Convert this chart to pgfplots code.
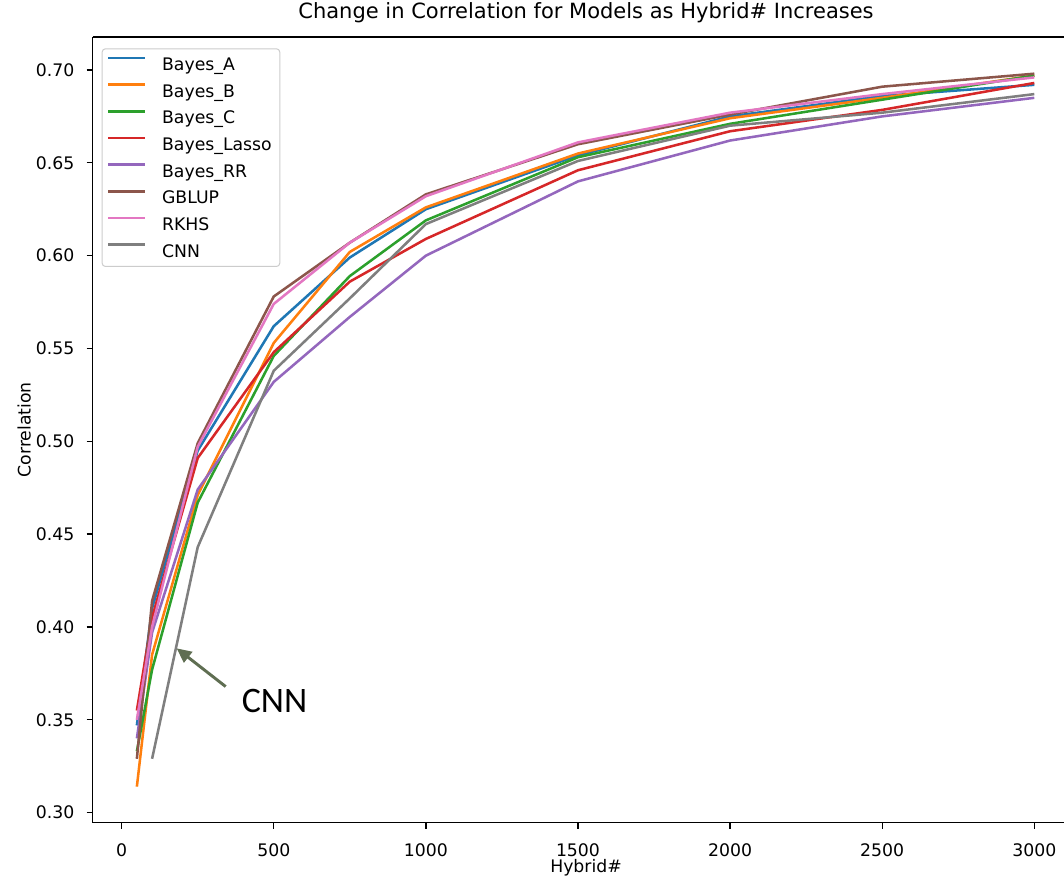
\documentclass[border=0pt]{standalone}
\usepackage{fontspec}
\setmainfont{DejaVu Sans}
\newfontfamily\calibri{Carlito}
\usepackage{pgfplots}
\pgfplotsset{compat=1.18}
\usetikzlibrary{arrows.meta}
\definecolor{tabblue}{HTML}{1F77B4}
\definecolor{taborange}{HTML}{FF7F0E}
\definecolor{tabgreen}{HTML}{2CA02C}
\definecolor{tabred}{HTML}{D62728}
\definecolor{tabpurple}{HTML}{9467BD}
\definecolor{tabbrown}{HTML}{8C564B}
\definecolor{tabpink}{HTML}{E377C2}
\definecolor{tabgray}{HTML}{7F7F7F}
\definecolor{arrowc}{HTML}{5F6E52}
\begin{document}
\begin{tikzpicture}
\begin{axis}[
  scale only axis,
  width=728.5bp, height=589.3bp,
  xmin=-95.3, xmax=3097.6, ymin=0.2946, ymax=0.7178,
  axis x line*=box, axis y line*=left,
  xtick={0,500,1000,1500,2000,2500,3000},
  ytick={0.30,0.35,0.40,0.45,0.50,0.55,0.60,0.65,0.70},
  xtick pos=left, ytick pos=left,
  tick align=outside, major tick length=4.5bp,
  every tick/.style={black, line width=1bp},
  axis line style={black, line width=1bp},
  /pgf/number format/assume math mode=true,
  xticklabel style={font=\fontsize{13}{15}\selectfont, anchor=base, inner sep=0pt, yshift=-20.5bp, /pgf/number format/1000 sep={}},
  yticklabel style={font=\fontsize{13}{15}\selectfont, anchor=east, inner sep=0pt, xshift=-9bp, /pgf/number format/.cd, fixed, fixed zerofill, precision=2},
  title={Change in Correlation for Models as Hybrid\# Increases},
  title style={at={(axis description cs:0.5079,1)}, anchor=base, yshift=7.9bp, inner sep=0pt, font=\fontsize{15.8}{19}\selectfont},
  xlabel={Hybrid\#},
  xlabel style={at={(axis description cs:0.5079,0)}, anchor=base, yshift=-37.7bp, inner sep=0pt, font=\fontsize{13}{15}\selectfont},
  ylabel={Correlation},
  ylabel style={at={(axis description cs:-0.064,0.5)}, anchor=base, inner sep=0pt, font=\fontsize{13}{15}\selectfont},
  legend cell align=left,
  legend style={at={(axis description cs:0,1)}, anchor=north west, xshift=6.75bp, yshift=-8.5bp,
    draw=black!20, fill=white, fill opacity=0.8, text opacity=1, rounded corners=2.5bp,
    inner xsep=3.75bp, inner ysep=1.65bp, row sep=0pt, line width=0.75bp,
    font=\fontsize{13}{15}\selectfont,
    nodes={inner sep=0pt, text height=14.75bp, text depth=5.25bp, text width=84.5bp, align=left}},
  legend image code/.code={\draw[#1, line width=1.9bp, sharp corners] (0bp,4.75bp) -- (27.5bp,4.75bp); \path (39.3bp,0bp);},
  every axis plot/.append style={line width=1.9bp, no marks},
]
\addplot[tabblue] coordinates {(50,0.347) (100,0.410) (250,0.495) (500,0.562) (750,0.599) (1000,0.625) (1500,0.654) (2000,0.675) (2500,0.686) (3000,0.692)};
\addlegendentry{Bayes\_A}
\addplot[taborange] coordinates {(50,0.314) (100,0.385) (250,0.471) (500,0.553) (750,0.602) (1000,0.626) (1500,0.655) (2000,0.674) (2500,0.685) (3000,0.697)};
\addlegendentry{Bayes\_B}
\addplot[tabgreen] coordinates {(50,0.333) (100,0.377) (250,0.467) (500,0.546) (750,0.589) (1000,0.619) (1500,0.653) (2000,0.671) (2500,0.684) (3000,0.697)};
\addlegendentry{Bayes\_C}
\addplot[tabred] coordinates {(50,0.355) (100,0.405) (250,0.491) (500,0.548) (750,0.586) (1000,0.609) (1500,0.646) (2000,0.667) (2500,0.6785) (3000,0.693)};
\addlegendentry{Bayes\_Lasso}
\addplot[tabpurple] coordinates {(50,0.340) (100,0.397) (250,0.474) (500,0.532) (750,0.567) (1000,0.600) (1500,0.640) (2000,0.662) (2500,0.675) (3000,0.685)};
\addlegendentry{Bayes\_RR}
\addplot[tabbrown] coordinates {(50,0.329) (100,0.414) (250,0.499) (500,0.578) (750,0.607) (1000,0.633) (1500,0.660) (2000,0.676) (2500,0.691) (3000,0.698)};
\addlegendentry{GBLUP}
\addplot[tabpink] coordinates {(50,0.350) (100,0.400) (250,0.497) (500,0.574) (750,0.607) (1000,0.632) (1500,0.661) (2000,0.677) (2500,0.687) (3000,0.696)};
\addlegendentry{RKHS}
\addplot[tabgray] coordinates {(100,0.329) (250,0.443) (500,0.538) (750,0.577) (1000,0.617) (1500,0.651) (2000,0.670) (2500,0.677) (3000,0.687)};
\addlegendentry{CNN}
\draw[arrowc, line width=2.2bp, -{Triangle[length=11bp,width=10bp]}] (axis cs:341.9,0.3679) -- (axis cs:180.8,0.3885);
\node[anchor=base, inner sep=0pt, font=\calibri\fontsize{27}{32}\selectfont] at (axis cs:502.3,0.3541) {CNN};
\end{axis}
\pgfresetboundingbox
\path[use as bounding box] (-69.5bp,-41.5bp) rectangle (728.5bp,617bp);
\end{tikzpicture}
\end{document}
